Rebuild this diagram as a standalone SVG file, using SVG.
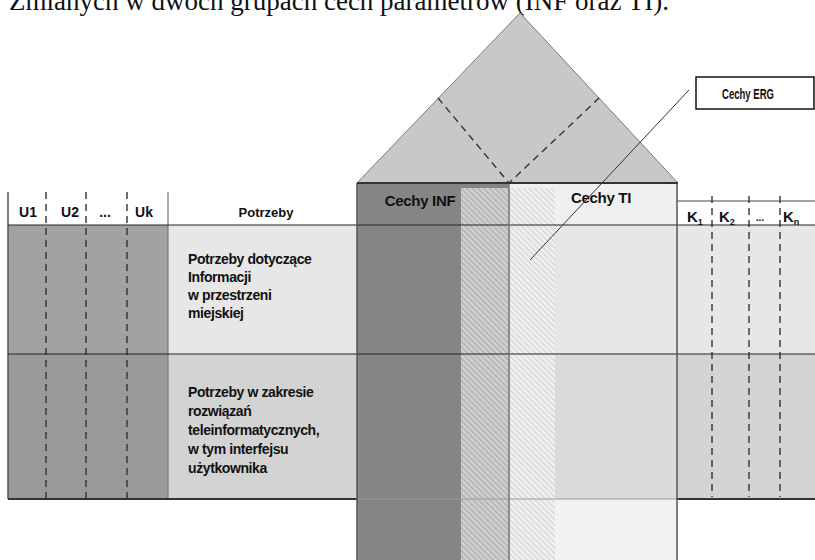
<svg xmlns="http://www.w3.org/2000/svg" width="815" height="560" viewBox="0 0 815 560">
<style>
  .lbl{font-family:"Liberation Sans",Arial,sans-serif;font-weight:bold;fill:#111;}
  .hdr{font-size:14px;}
  .body{font-size:14px;letter-spacing:-0.4px;}
  .col{font-size:15px;letter-spacing:-0.3px;}
  .dash{stroke:#333;stroke-width:1.4;stroke-dasharray:7,5;fill:none;}
  .rule{stroke:#222;stroke-width:1;fill:none;}
  .edge{stroke:#555;stroke-width:1.5;fill:none;}
</style>
<defs>
  <pattern id="hatchDark" patternUnits="userSpaceOnUse" width="4" height="4" patternTransform="rotate(-45)">
    <rect width="4" height="4" fill="#d2d2d2"/>
    <rect width="1.6" height="4" fill="#b2b2b2"/>
  </pattern>
  <pattern id="hatchLight" patternUnits="userSpaceOnUse" width="4" height="4" patternTransform="rotate(-45)">
    <rect width="4" height="4" fill="#f2f2f2"/>
    <rect width="1.6" height="4" fill="#d8d8d8"/>
  </pattern>
</defs>
<rect width="815" height="560" fill="#ffffff"/>

<text x="669" y="10" text-anchor="end" font-family="'Liberation Serif','Times New Roman',serif" font-size="27" fill="#111">Zmianych w dwóch grupach cech parametrów (INF oraz TI).</text>

<g id="roof">
  <polygon points="357,183 520,13 678,183" fill="#c8c8c8" stroke="#7a7a7a" stroke-width="1"/>
  <polyline points="438,98 509,183 599,98" class="dash" stroke="#222"/>
</g>

<g id="table-left">
  <rect x="8" y="192" width="349" height="33" fill="#ffffff"/>
  <rect x="8" y="225" width="160" height="129" fill="#a2a2a2"/>
  <rect x="8" y="354" width="160" height="145" fill="#9a9a9a"/>
  <rect x="168" y="225" width="189" height="129" fill="#e7e7e7"/>
  <rect x="168" y="354" width="189" height="145" fill="#d3d3d3"/>
  <line x1="8" y1="192" x2="8" y2="499" class="edge"/>
  <line x1="168" y1="192" x2="168" y2="499" stroke="#777" stroke-width="1.2"/>
  <line x1="46" y1="192" x2="46" y2="499" class="dash"/>
  <line x1="86" y1="192" x2="86" y2="499" class="dash"/>
  <line x1="127" y1="192" x2="127" y2="499" class="dash"/>
  <text class="lbl hdr" x="28" y="217" text-anchor="middle">U1</text>
  <text class="lbl hdr" x="70" y="217" text-anchor="middle">U2</text>
  <text class="lbl hdr" x="105" y="217" text-anchor="middle">...</text>
  <text class="lbl hdr" x="144" y="217" text-anchor="middle">Uk</text>
  <text class="lbl" font-size="13" x="266" y="217" text-anchor="middle">Potrzeby</text>
</g>

<g id="row-info">
  <text class="lbl body" x="188" y="264">Potrzeby dotyczące</text>
  <text class="lbl body" x="188" y="282">Informacji</text>
  <text class="lbl body" x="188" y="300">w przestrzeni</text>
  <text class="lbl body" x="188" y="318">miejskiej</text>
</g>

<g id="row-tele">
  <text class="lbl body" x="188" y="397">Potrzeby w zakresie</text>
  <text class="lbl body" x="188" y="416">rozwiązań</text>
  <text class="lbl body" x="188" y="435">teleinformatycznych,</text>
  <text class="lbl body" x="188" y="454">w tym interfejsu</text>
  <text class="lbl body" x="188" y="473">użytkownika</text>
</g>

<g id="column-inf">
  <rect x="357" y="183" width="152" height="377" fill="#858585"/>
  <rect x="461" y="188" width="48" height="372" fill="url(#hatchDark)"/>
  <text class="lbl col" x="420" y="206" text-anchor="middle">Cechy INF</text>
</g>

<g id="column-ti">
  <rect x="509" y="183" width="168" height="42" fill="#f0f0f0"/>
  <rect x="509" y="225" width="168" height="129" fill="#e6e6e6"/>
  <rect x="509" y="354" width="168" height="145" fill="#dadada"/>
  <rect x="509" y="499" width="168" height="61" fill="#f2f2f2"/>
  <rect x="509" y="188" width="46" height="372" fill="url(#hatchLight)"/>
  <text class="lbl col" x="601" y="203" text-anchor="middle">Cechy TI</text>
</g>

<g id="table-right">
  <rect x="677" y="201" width="138" height="24" fill="#ffffff"/>
  <rect x="677" y="225" width="138" height="129" fill="#e7e7e7"/>
  <rect x="677" y="354" width="138" height="145" fill="#d3d3d3"/>
  <line x1="677" y1="201" x2="815" y2="201" stroke="#444" stroke-width="1"/>
  <line x1="712" y1="196" x2="712" y2="497" class="dash"/>
  <line x1="749" y1="196" x2="749" y2="497" class="dash"/>
  <line x1="780" y1="196" x2="780" y2="497" class="dash"/>
  <text class="lbl" font-size="15" x="687" y="222">K<tspan font-size="9" dy="3">1</tspan></text>
  <text class="lbl" font-size="15" x="719" y="222">K<tspan font-size="9" dy="3">2</tspan></text>
  <text class="lbl" font-size="10" x="760" y="221" text-anchor="middle" fill="#444">...</text>
  <text class="lbl" font-size="15" x="783" y="222">K<tspan font-size="9" dy="3">n</tspan></text>
</g>

<g id="grid">
  <line x1="8" y1="225" x2="815" y2="225" class="rule"/>
  <line x1="8" y1="354" x2="815" y2="354" class="rule" stroke="#333"/>
  <line x1="8" y1="499" x2="357" y2="499" stroke="#333" stroke-width="2"/>
  <line x1="357" y1="499" x2="677" y2="499" stroke="#9a9a9a" stroke-width="1"/>
  <line x1="677" y1="499" x2="815" y2="499" stroke="#333" stroke-width="2"/>
  <line x1="357" y1="183" x2="357" y2="560" class="edge"/>
  <line x1="677" y1="183" x2="677" y2="560" class="edge"/>
  <line x1="509" y1="183" x2="509" y2="560" stroke="#7a7a7a" stroke-width="1.6"/>
  <line x1="357" y1="183" x2="678" y2="183" stroke="#333" stroke-width="2"/>
</g>

<g id="erg-box">
  <rect x="696" y="77" width="118" height="32" fill="#ffffff" stroke="#111" stroke-width="1.5"/>
  <text class="lbl" font-size="15" x="748" y="99" text-anchor="middle" textLength="52" lengthAdjust="spacingAndGlyphs">Cechy ERG</text>
</g>

<g id="connectors">
  <line x1="689" y1="90" x2="530" y2="260" stroke="#333" stroke-width="1"/>
</g>
</svg>
